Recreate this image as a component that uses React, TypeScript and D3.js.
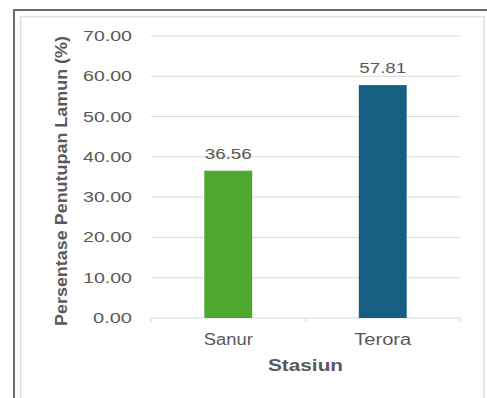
import React from "react";
import * as d3 from "d3";

const categories = ["Sanur", "Terora"];
const values = [36.56, 57.81];
const barColors = ["#4EA72E", "#156082"];
const yTicks = [0, 10, 20, 30, 40, 50, 60, 70];

export default function App() {
  const W = 487, H = 398;
  const x0 = 151, x1 = 460, yBottom = 318, yTop = 36;
  const x = d3.scaleBand<string>().domain(categories).range([x0, x1]).paddingInner(0.69).paddingOuter(0.345);
  const xc = d3.scaleBand<string>().domain(categories).range([x0, x1]).padding(0);
  const y = d3.scaleLinear().domain([0, 70]).range([yBottom, yTop]);
  const txt = "#595959";
  const font = "Arial, 'Liberation Sans', sans-serif";
  return (
    <div style={{ position: "absolute", left: 0, top: 0 }}>
      <svg width={W} height={H} style={{ display: "block" }} fontFamily={font}>
        <rect x={0} y={0} width={W} height={H} fill="#fff" />
        <line x1={13} y1={10} x2={W} y2={10} stroke="#6b6b6b" strokeWidth={2} />
        <line x1={14} y1={10} x2={14} y2={H} stroke="#6b6b6b" strokeWidth={2} />
        <rect x={20.5} y={16.5} width={463.5} height={H} fill="#fff" stroke="#dedede" strokeWidth={1.5} />
        {yTicks.map((t) => (
          <g key={t}>
            {t > 0 && <line x1={x0} x2={x1} y1={y(t)} y2={y(t)} stroke="#d9d9d9" strokeWidth={1} />}
            <text x={132} y={y(t) + 5} textAnchor="end" fontSize={14} fill={txt} textLength={t === 0 ? 39 : 49} lengthAdjust="spacingAndGlyphs">
              {t.toFixed(2)}
            </text>
          </g>
        ))}
        <line x1={x0} x2={x1} y1={y(0)} y2={y(0)} stroke="#d9d9d9" strokeWidth={1.2} />
        {[x0, (x0 + x1) / 2, x1].map((v, i) => (
          <line key={i} x1={v} x2={v} y1={y(0)} y2={y(0) + 4} stroke="#d9d9d9" strokeWidth={1.2} />
        ))}
        {categories.map((c, i) => (
          <g key={c}>
            <rect x={x(c)} y={y(values[i])} width={x.bandwidth()} height={y(0) - y(values[i])} fill={barColors[i]} />
            <text x={(x(c) as number) + x.bandwidth() / 2} y={y(values[i]) - 12} textAnchor="middle" fontSize={14} fill={txt} textLength={47} lengthAdjust="spacingAndGlyphs">
              {values[i].toFixed(2)}
            </text>
            <text x={(xc(c) as number) + xc.bandwidth() / 2} y={345} textAnchor="middle" fontSize={16} fill={txt} textLength={c === "Sanur" ? 49 : 57} lengthAdjust="spacingAndGlyphs">
              {c}
            </text>
          </g>
        ))}
        <text x={(x0 + x1) / 2} y={371} textAnchor="middle" fontSize={17} fontWeight="bold" fill={txt} textLength={75} lengthAdjust="spacingAndGlyphs">
          Stasiun
        </text>
        <text transform="translate(67,181) rotate(-90)" textAnchor="middle" fontSize={16} fontWeight="bold" fill={txt} textLength={290} lengthAdjust="spacingAndGlyphs">
          Persentase Penutupan Lamun (%)
        </text>
      </svg>
    </div>
  );
}
